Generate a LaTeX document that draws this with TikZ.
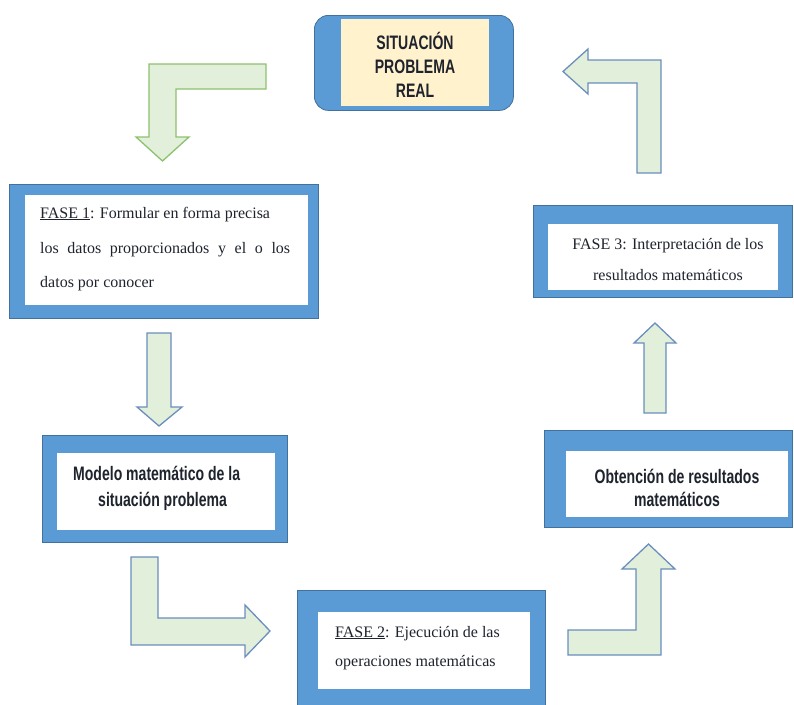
\documentclass[tikz,border=0pt]{standalone}
\usepackage{fontspec}
\setmainfont{Liberation Serif}
\newfontfamily\condfont[FakeStretch=0.72]{Liberation Sans}
\definecolor{boxblue}{HTML}{5B9BD5}
\definecolor{boxedge}{HTML}{41719C}
\definecolor{cream}{HTML}{FFF2CC}
\definecolor{arrfill}{HTML}{E2EFDA}
\definecolor{arrgreen}{HTML}{8CC26E}
\definecolor{arrblue}{HTML}{6A8EBE}
\definecolor{ink}{HTML}{1E232D}
\tikzset{
  outerbox/.style={draw=boxedge, fill=boxblue, line width=0.8pt, anchor=north west, inner sep=0pt},
  innerbox/.style={fill=white, draw=none, anchor=north west, inner sep=0pt},
  serifline/.style={font=\fontsize{16}{18}\selectfont, text=ink, inner sep=0pt},
  condline/.style={font=\condfont\bfseries\fontsize{19.5}{22}\selectfont, text=ink, inner sep=0pt},
  blockarrow/.style={fill=arrfill, draw=arrblue, line width=1.3pt, line join=miter},
  greenarrow/.style={fill=arrfill, draw=arrgreen, line width=1.3pt, line join=miter}
}
\begin{document}
\begin{tikzpicture}[x=1pt,y=-1pt]
\useasboundingbox (0,0) rectangle (794,704);
% top box
\node[outerbox, rounded corners=14pt, minimum width=199pt, minimum height=95pt] (topo) at (314,15) {};
\node[innerbox, fill=cream, minimum width=148pt, minimum height=87pt] (topi) at (341,19) {};
\node[condline, anchor=base] (t1) at (415,49) {SITUACIÓN};
\node[condline, anchor=base] (t2) at (415,73) {PROBLEMA};
\node[condline, anchor=base] (t3) at (415,97) {REAL};
% FASE 1
\node[outerbox, minimum width=309pt, minimum height=134pt] (f1o) at (9,184) {};
\node[innerbox, minimum width=283pt, minimum height=110pt] (f1i) at (25,195) {};
\node[serifline, anchor=base west] (f1a) at (40,218) {\underline{FASE 1}: Formular en forma precisa};
\node[serifline, anchor=base west] (f1b) at (40,253) {\makebox[250pt][s]{los datos proporcionados y el o los}};
\node[serifline, anchor=base west] (f1c) at (40,287) {datos por conocer};
% FASE 3
\node[outerbox, minimum width=259pt, minimum height=92pt] (f3o) at (533,205) {};
\node[innerbox, minimum width=230pt, minimum height=66pt] (f3i) at (548,224) {};
\node[serifline, anchor=base] (f3a) at (668,249) {FASE 3: Interpretación de los};
\node[serifline, anchor=base] (f3b) at (668,280) {resultados matemáticos};
% Modelo
\node[outerbox, minimum width=245pt, minimum height=107pt] (mo) at (42,435) {};
\node[innerbox, minimum width=218pt, minimum height=77pt] (mi) at (57,453) {};
\node[condline, anchor=base west] (ma) at (73,480) {Modelo matemático de la};
\node[condline, anchor=base west] (mb) at (98,506) {situación problema};
% Obtencion
\node[outerbox, minimum width=248pt, minimum height=97pt] (oo) at (544,430) {};
\node[innerbox, minimum width=222pt, minimum height=66pt] (oi) at (566,451) {};
\node[condline, anchor=base] (oa) at (677,483) {Obtención de resultados};
\node[condline, anchor=base] (ob) at (677,506) {matemáticos};
% FASE 2
\node[outerbox, minimum width=248pt, minimum height=116pt] (f2o) at (297,590) {};
\node[innerbox, minimum width=212pt, minimum height=77pt] (f2i) at (318,612) {};
\node[serifline, anchor=base west] (f2a) at (335,637) {\underline{FASE 2}: Ejecución de las};
\node[serifline, anchor=base west] (f2b) at (335,666) {operaciones matemáticas};
% block arrows
\draw[greenarrow] (266,64) -- (149,64) -- (149,137) -- (136,137) -- (162.5,161) -- (189,137) -- (176,137) -- (176,89) -- (266,89) -- cycle;
\draw[blockarrow] (661,173) -- (661,60) -- (588,60) -- (588,49) -- (563,71.5) -- (588,94) -- (588,83) -- (637,83) -- (637,173) -- cycle;
\draw[blockarrow] (147,333) -- (171,333) -- (171,407) -- (182,407) -- (159,426) -- (137,407) -- (147,407) -- cycle;
\draw[blockarrow] (131,557) -- (158,557) -- (158,618) -- (245,618) -- (245,605) -- (270,631) -- (245,657) -- (245,645) -- (131,645) -- cycle;
\draw[blockarrow] (568,630) -- (636,630) -- (636,569) -- (622,569) -- (648.5,544) -- (675,569) -- (661,569) -- (661,655) -- (568,655) -- cycle;
\draw[blockarrow] (644,413) -- (644,343) -- (634,343) -- (655,323) -- (676,343) -- (666,343) -- (666,413) -- cycle;
\end{tikzpicture}
\end{document}
